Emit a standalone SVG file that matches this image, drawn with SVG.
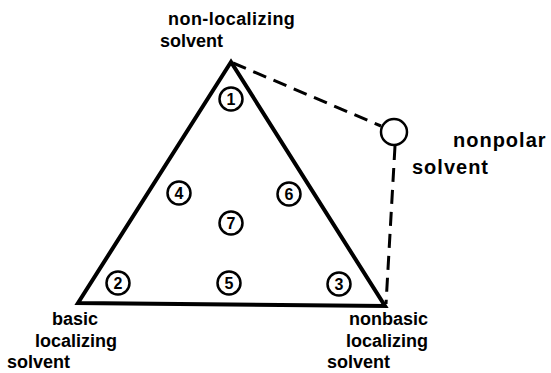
<svg xmlns="http://www.w3.org/2000/svg" width="551" height="373" viewBox="0 0 551 373">
<style>
.lbl{font-family:"Liberation Sans",Arial,sans-serif;font-weight:bold;font-size:18px;fill:#000}
.big{font-size:20px;letter-spacing:1px}
.num{font-family:"Liberation Sans",Arial,sans-serif;font-weight:bold;font-size:16px;fill:#000;text-anchor:middle}
.nc{fill:#fff;stroke:#000;stroke-width:2.5}
.tri{fill:none;stroke:#000;stroke-width:4;stroke-linejoin:miter}
.dash{fill:none;stroke:#000;stroke-width:3;stroke-dasharray:14 8}
</style>
<rect width="551" height="373" fill="#fff"/>
<g id="connectors">
<path class="tri" d="M231,62 L78,303 L385,306 Z"/>
<line class="dash" x1="233" y1="63" x2="381" y2="126"/>
<line class="dash" x1="395" y1="146" x2="386" y2="304"/>
</g>
<g id="apex-label">
<text class="lbl" x="168" y="25" style="letter-spacing:0.45px">non-localizing</text>
<text class="lbl" x="160" y="47">solvent</text>
</g>
<g id="nonpolar">
<circle cx="394" cy="132" r="13" fill="#fff" stroke="#000" stroke-width="2.5"/>
<text class="lbl big" x="453" y="147">nonpolar</text>
<text class="lbl big" x="412" y="174">solvent</text>
</g>
<g id="basic-label">
<text class="lbl" x="75" y="325" text-anchor="middle">basic</text>
<text class="lbl" x="35" y="347">localizing</text>
<text class="lbl" x="7" y="368">solvent</text>
</g>
<g id="nonbasic-label">
<text class="lbl" x="428" y="325" text-anchor="end">nonbasic</text>
<text class="lbl" x="428" y="347" text-anchor="end">localizing</text>
<text class="lbl" x="327" y="368">solvent</text>
</g>
<g id="n1"><circle class="nc" cx="231" cy="99" r="11.5"/><text class="num" x="231" y="104.8">1</text></g>
<g id="n2"><circle class="nc" cx="118" cy="283" r="11.5"/><text class="num" x="118" y="288.8">2</text></g>
<g id="n3"><circle class="nc" cx="339" cy="284" r="11.5"/><text class="num" x="339" y="289.8">3</text></g>
<g id="n4"><circle class="nc" cx="179" cy="193" r="11.5"/><text class="num" x="179" y="198.8">4</text></g>
<g id="n5"><circle class="nc" cx="229" cy="283" r="11.5"/><text class="num" x="229" y="288.8">5</text></g>
<g id="n6"><circle class="nc" cx="289" cy="194" r="11.5"/><text class="num" x="289" y="199.8">6</text></g>
<g id="n7"><circle class="nc" cx="231" cy="223" r="11.5"/><text class="num" x="231" y="228.8">7</text></g>
</svg>
